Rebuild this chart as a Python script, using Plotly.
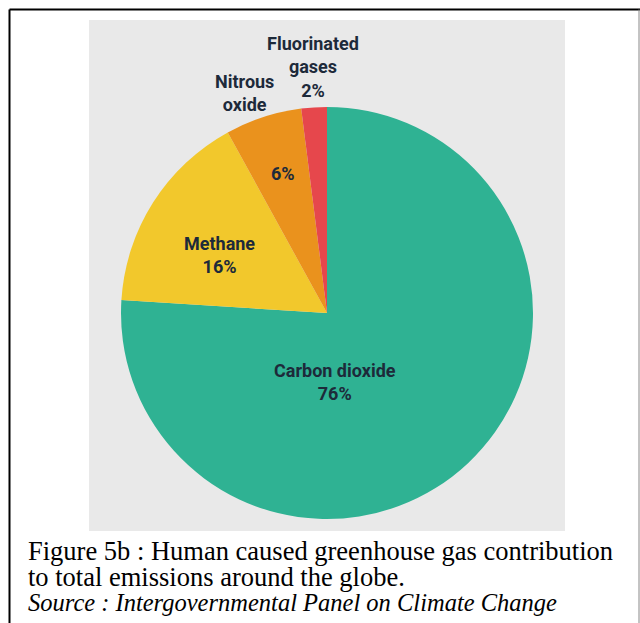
import plotly.graph_objects as go

# ---- data ----
gases = ["Carbon dioxide", "Methane", "Nitrous oxide", "Fluorinated gases"]
shares = [76, 16, 6, 2]
colors = ["#2fb293", "#f2c82c", "#ea921d", "#e6474c"]

caption_line1 = "Figure 5b : Human caused greenhouse gas contribution"
caption_line2 = "to total emissions around the globe."
caption_line3 = "Source : Intergovernmental Panel on Climate Change"

W, H = 640, 623


def px(x):
    return x / W


def py(y):
    return 1 - y / H


# pie geometry in pixels
cx, cy, r = 327, 313, 206

fig = go.Figure()
fig.add_trace(go.Pie(
    labels=gases,
    values=shares,
    marker=dict(colors=colors, line=dict(width=0)),
    sort=False,
    direction="clockwise",
    rotation=0,
    textinfo="none",
    hoverinfo="label+percent",
    showlegend=False,
    domain=dict(x=[px(cx - r), px(cx + r)], y=[py(cy + r), py(cy - r)]),
))

label_font = dict(family="Liberation Sans Narrow, Roboto, sans-serif",
                  size=18, color="#1d2a3a")

def pct(i):
    return f"{shares[i]}%"

label_specs = [
    ("<b>" + gases[0] + "<br>" + pct(0) + "</b>", 335, 382),
    ("<b>" + gases[1] + "<br>" + pct(1) + "</b>", 219, 255),
    ("<b>" + gases[2].replace(" ", "<br>") + "</b>", 244, 93),
    ("<b>" + pct(2) + "</b>", 283, 173),
    ("<b>" + gases[3].replace(" ", "<br>") + "<br>" + pct(3) + "</b>", 313, 67),
]

annotations = []
for text, x, y in label_specs:
    annotations.append(dict(
        text=text, x=px(x), y=py(y), xref="paper", yref="paper",
        xanchor="center", yanchor="middle", showarrow=False,
        font=label_font, align="center",
    ))

for text, y, size in [(caption_line1, 551, 26.5), (caption_line2, 577, 26.5),
                      ("<i>" + caption_line3 + "</i>", 602, 24.5)]:
    annotations.append(dict(
        text=text, x=px(26), y=py(y), xref="paper", yref="paper",
        xanchor="left", yanchor="middle", showarrow=False,
        font=dict(family="Liberation Serif, Times New Roman, serif", size=size, color="#000000"),
        align="left",
    ))

shapes = [
    # grey panel behind the pie
    dict(type="rect", xref="paper", yref="paper", x0=px(89), x1=px(565), y0=py(531), y1=py(20),
         fillcolor="#e9e9e9", line=dict(width=0), layer="below"),
    # outer frame
    dict(type="line", xref="paper", yref="paper", x0=px(9.5), x1=px(640), y0=py(9.5), y1=py(9.5),
         line=dict(color="#000000", width=2)),
    dict(type="line", xref="paper", yref="paper", x0=px(9.5), x1=px(9.5), y0=py(9.5), y1=py(623),
         line=dict(color="#000000", width=2)),
    dict(type="line", xref="paper", yref="paper", x0=px(639), x1=px(639), y0=py(9.5), y1=py(623),
         line=dict(color="#888888", width=1)),
]

fig.update_layout(
    width=W, height=H,
    margin=dict(l=0, r=0, t=0, b=0),
    paper_bgcolor="#ffffff",
    plot_bgcolor="#ffffff",
    annotations=annotations,
    shapes=shapes,
)

fig.write_html(
    "out.html",
    config={"displayModeBar": False},
    post_script="document.body.style.margin='0px';document.body.style.overflow='hidden';",
)
